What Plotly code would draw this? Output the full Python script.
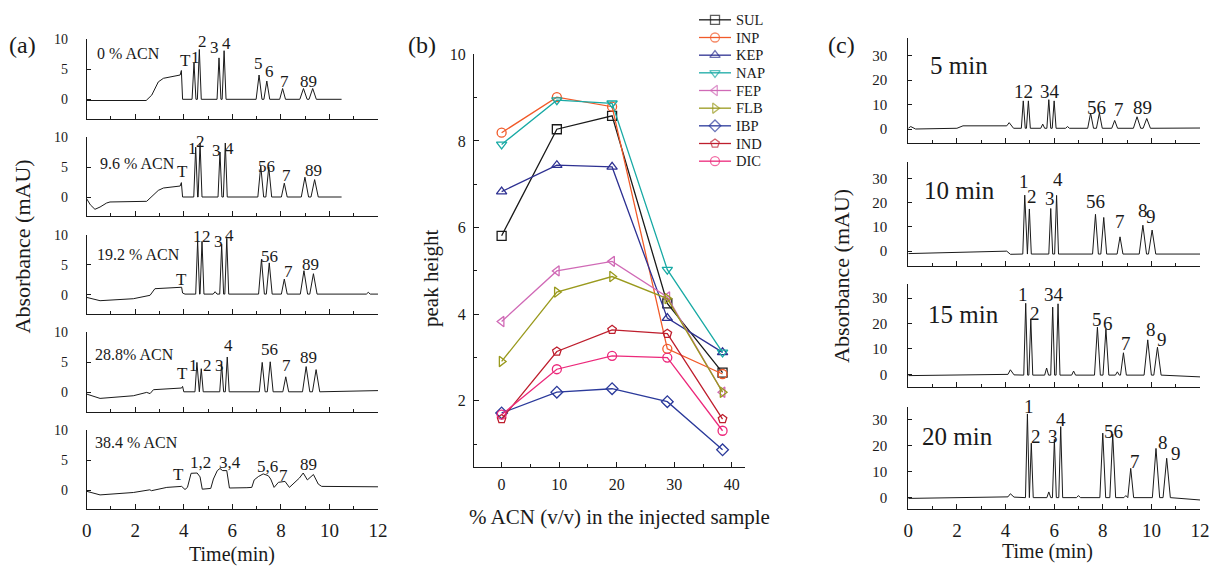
import plotly.graph_objects as go

W, H = 1211, 566
INK = "#1a1a1a"
SERIF = "Liberation Serif, Times New Roman, Times, serif"

# ---------------- panel (a): chromatograms, % ACN in the sample ----------------
a_titles = ["0 % ACN", "9.6 % ACN", "19.2 % ACN", "28.8% ACN", "38.4 % ACN"]

# baseline knots (time min, absorbance mAU) before the analyte window
a1_bt = [0, 2.45, 2.68, 2.82, 2.95, 3.16, 3.57, 3.85, 3.9, 3.95]
a1_by = [-0.2, -0.2, 0.7, 1.8, 2.9, 3.5, 3.8, 4.05, 4.8, 0.0]
a1_pt = [4.42, 4.64, 5.45, 5.66, 7.1, 7.42, 8.07, 8.93, 9.31]
a1_ph = [6.1, 8.3, 6.9, 8.1, 4.05, 3.05, 1.8, 1.8, 1.8]

a2_bt = [0, 0.15, 0.34, 0.55, 0.82, 0.96, 2.47, 2.75, 2.95, 3.16, 3.85, 3.9, 3.95]
a2_by = [-0.3, -1.3, -2.05, -1.67, -1.0, -0.83, -0.72, 0.28, 1.1, 1.5, 1.83, 2.4, 0.0]
a2_pt = [4.49, 4.67, 5.49, 5.71, 7.17, 7.5, 8.14, 8.99, 9.39]
a2_ph = [8.3, 9.0, 7.5, 9.0, 5.2, 5.0, 2.3, 3.3, 2.9]

a3_bt = [0, 0.14, 0.55, 1.92, 2.47, 2.61, 2.81, 3.91, 3.95, 4.05]
a3_by = [-0.45, -0.56, -1.0, -0.67, -0.28, -0.1, 1.0, 1.24, 0.28, 0.1]
a3_pt = [4.57, 4.75, 5.56, 5.77, 7.2, 7.52, 8.14, 8.95, 9.34]
a3_ph = [9.0, 8.9, 8.4, 9.4, 5.9, 5.3, 2.6, 4.0, 3.5]
a3_mt = [5.29, 11.6]
a3_mh = [0.5, 0.4]

a4_bt = [0, 0.55, 1.92, 2.4, 2.47, 2.61, 2.75, 3.91, 3.95, 4.0]
a4_by = [-0.28, -1.0, -0.56, -0.1, 0.0, -0.2, 0.45, 0.73, 1.0, 0.1]
a4_pt = [4.54, 4.72, 5.56, 5.79, 7.23, 7.56, 8.2, 9.04, 9.45]
a4_ph = [5.0, 3.95, 4.7, 5.9, 5.0, 5.1, 2.6, 4.3, 3.8]

# 38.4 % ACN: broad, distorted bands, read point by point
a5_t = [0, 0.55, 1.92, 2.33, 2.6, 2.67, 3.3, 3.91, 4.05, 4.15, 4.3, 4.55, 4.67,
        4.76, 5.11, 5.22, 5.38, 5.49, 5.6, 5.77, 5.88, 6.6, 6.8, 6.9, 7.07, 7.27,
        7.48, 7.58, 7.72, 7.9, 8.17, 8.35, 8.76, 8.92, 9.09, 9.34, 9.54, 9.68, 12]
a5_y = [-0.2, -0.8, -0.4, -0.1, 0.05, -0.1, 0.45, 0.62, 0.1, 0.45, 2.8, 2.85, 2.2,
        0.15, 0.28, 1.85, 3.25, 3.6, 3.25, 3.25, 0.35, 0.4, 0.45, 1.7, 2.25, 2.7,
        2.4, 1.85, 0.45, 1.3, 1.45, 0.45, 2.0, 2.85, 1.7, 2.6, 1.0, 0.62, 0.55]

# peak labels (text, time, absorbance)
a_labels = [
    [("T", 4.09, 6.4), ("1", 4.5, 7.0), ("2", 4.76, 9.6), ("3", 5.25, 8.55), ("4", 5.77, 9.3),
     ("5", 7.07, 6.0), ("6", 7.55, 4.6), ("7", 8.14, 2.9), ("89", 9.13, 2.9)],
    [("T", 3.93, 4.2), ("1", 4.37, 8.1), ("2", 4.67, 9.2), ("3", 5.33, 7.8), ("4", 5.9, 8.1),
     ("56", 7.42, 5.0), ("7", 8.21, 3.6), ("89", 9.34, 4.45)],
    [("T", 3.91, 2.5), ("1", 4.57, 9.7), ("2", 4.94, 9.7), ("3", 5.42, 8.8), ("4", 5.9, 9.9),
     ("56", 7.52, 6.4), ("7", 8.3, 3.9), ("89", 9.2, 5.0)],
    [("T", 3.95, 3.1), ("1", 4.39, 4.45), ("2", 4.97, 4.45), ("3", 5.46, 4.45), ("4", 5.83, 7.8),
     ("56", 7.52, 7.2), ("7", 8.21, 4.45), ("89", 9.13, 5.8)],
    [("T", 3.78, 2.55), ("1,2", 4.67, 4.6), ("3,4", 5.9, 4.6), ("5,6", 7.46, 3.9),
     ("7", 8.1, 2.4), ("89", 9.13, 4.2)],
]
a_title_pos = [(0.34, 7.7), (0.45, 5.6), (0.34, 6.7), (0.27, 6.4), (0.27, 7.9)]

# ---------------- panel (b): peak height vs % ACN ----------------
acn = [0, 9.6, 19.2, 28.8, 38.4]
compounds = ["SUL", "INP", "KEP", "NAP", "FEP", "FLB", "IBP", "IND", "DIC"]
SUL = [5.81, 8.27, 8.58, 4.25, 2.65]
INP = [8.19, 9.01, 8.79, 3.2, 2.62]
KEP = [6.83, 7.44, 7.40, 3.91, 3.12]
NAP = [7.92, 8.94, 8.87, 5.03, 3.12]
FEP = [3.83, 5.0, 5.22, 4.4, 2.2]
FLB = [2.91, 4.51, 4.87, 4.36, 2.2]
IBP = [1.72, 2.2, 2.28, 1.98, 0.87]
IND = [1.58, 3.14, 3.64, 3.55, 1.58]
DIC = [1.68, 2.73, 3.04, 3.0, 1.31]
heights = [SUL, INP, KEP, NAP, FEP, FLB, IBP, IND, DIC]

b_colors = ["#1a1a1a", "#f15a29", "#2e3192", "#19aaa5", "#d06ab6",
            "#9a9a1e", "#2b3a9b", "#be1e2d", "#ec297b"]
b_symbols = ["square-open", "circle-open", "triangle-up-open", "triangle-down-open",
             "triangle-left-open", "triangle-right-open", "diamond-open",
             "pentagon-open", "circle-open"]

# ---------------- panel (c): chromatograms, injection time ----------------
c_titles = ["5 min", "10 min", "15 min", "20 min"]

c1_bt = [0, 0.1, 0.3, 2.0, 2.25, 4.05, 4.15, 4.33]
c1_by = [0.3, 1.0, 0.0, 0.3, 1.3, 1.3, 2.6, 0.3]
c1_pt = [4.73, 4.94, 5.78, 6.0, 7.5, 7.86, 8.49, 9.41, 9.81]
c1_ph = [11.5, 11.5, 12.0, 11.5, 6.5, 6.5, 3.5, 5.0, 4.3]
c1_mt = [5.53, 6.55]
c1_mh = [2.0, 1.0]

c2_bt = [0, 4.05, 4.2]
c2_by = [-1.0, 0.0, -1.3]
c2_pt = [4.79, 4.98, 5.86, 6.1, 7.7, 8.04, 8.71, 9.65, 10.03]
c2_ph = [23.1, 17.4, 17.6, 23.0, 15.2, 13.9, 5.9, 10.7, 8.7]

c3_bt = [0, 4.1, 4.2, 4.35]
c3_by = [-0.5, 0.0, 1.8, -0.2]
c3_pt = [4.83, 5.04, 5.94, 6.16, 7.78, 8.13, 8.85, 9.85, 10.25]
c3_ph = [28.0, 21.9, 26.5, 27.8, 18.6, 17.8, 8.5, 13.6, 10.7]
c3_mt = [5.69, 6.8, 8.6]
c3_mh = [2.5, 1.3, 1.0]

c4_bt = [0, 4.1, 4.2, 4.35]
c4_by = [-0.3, 0.3, 1.5, 0.2]
c4_pt = [4.9, 5.06, 6.01, 6.27, 8.0, 8.41, 9.15, 10.19, 10.63]
c4_ph = [32.3, 21.0, 22.5, 27.4, 24.9, 24.5, 11.3, 19.0, 15.2]
c4_mt = [5.78, 7.0, 8.95]
c4_mh = [2.2, 0.8, 0.8]

c_labels = [
    [("12", 4.73, 15.2), ("34", 5.83, 15.2), ("56", 7.75, 8.9), ("7", 8.68, 7.8), ("89", 9.65, 8.9)],
    [("1", 4.77, 28.6), ("2", 5.08, 22.4), ("3", 5.84, 21.8), ("4", 6.16, 29.6), ("56", 7.72, 20.4),
     ("7", 8.71, 12.1), ("8", 9.65, 16.9), ("9", 9.98, 14.2)],
    [("1", 4.71, 31.3), ("2", 5.21, 24.1), ("34", 6.0, 31.3), ("5", 7.75, 21.5), ("6", 8.23, 20.1),
     ("7", 8.96, 12.0), ("8", 9.98, 17.5), ("9", 10.43, 13.6)],
    [("1", 4.98, 35.1), ("2", 5.26, 23.5), ("3", 5.97, 23.5), ("4", 6.27, 30.0), ("56", 8.44, 25.5),
     ("7", 9.33, 13.9), ("8", 10.49, 21.2), ("9", 11.0, 17.1)],
]
c_title_pos = [(0.82, 26.1), (0.55, 24.9), (0.73, 23.4), (0.48, 23.5)]

# half-widths of the peaks by elution order (style only)
PEAK_W = [0.08, 0.08, 0.08, 0.08, 0.12, 0.12, 0.12, 0.15, 0.15]
MINOR_W = 0.08


def chrom(bt, by, pt, ph, floor, t_end, y_end, mt=(), mh=()):
    peaks = [(t, h, PEAK_W[i]) for i, (t, h) in enumerate(zip(pt, ph))]
    peaks += [(t, h, MINOR_W) for t, h in zip(mt, mh)]
    peaks.sort()
    x, y = list(bt), list(by)
    for t, h, w in peaks:
        x += [t - w, t, t + w]
        y += [floor, h, floor]
    x.append(t_end)
    y.append(y_end)
    return x, y


a_traces = [
    chrom(a1_bt, a1_by, a1_pt, a1_ph, 0.0, 10.5, 0.0),
    chrom(a2_bt, a2_by, a2_pt, a2_ph, 0.0, 10.5, 0.0),
    chrom(a3_bt, a3_by, a3_pt, a3_ph, 0.1, 12, 0.1, a3_mt, a3_mh),
    chrom(a4_bt, a4_by, a4_pt, a4_ph, 0.1, 12, 0.3),
    (a5_t, a5_y),
]
c_traces = [
    chrom(c1_bt, c1_by, c1_pt, c1_ph, 0.3, 12, 0.4, c1_mt, c1_mh),
    chrom(c2_bt, c2_by, c2_pt, c2_ph, -1.2, 12, -1.2),
    chrom(c3_bt, c3_by, c3_pt, c3_ph, -0.3, 12, -1.0, c3_mt, c3_mh),
    chrom(c4_bt, c4_by, c4_pt, c4_ph, 0.0, 12, -0.9, c4_mt, c4_mh),
]


def px(x):
    return x / W


def py(y):
    return 1 - y / H


def txt_font(size):
    return dict(size=size, family=SERIF, color=INK)


fig = go.Figure()
layout = dict(width=W, height=H, autosize=False,
              margin=dict(l=0, r=0, t=0, b=0, pad=0, autoexpand=False),
              paper_bgcolor="white", plot_bgcolor="white",
              font=dict(family=SERIF, color=INK), showlegend=False)
annotations = []


def chrom_axes(n, dom_x, top, bot, yr, ytv, ysize, ystand, last):
    layout["xaxis%d" % n] = dict(
        domain=dom_x, anchor="y%d" % n, range=[0, 12], showline=True, linecolor=INK,
        linewidth=1, showgrid=False, zeroline=False, ticks="inside", ticklen=5,
        tickcolor=INK, tick0=0, dtick=2, showticklabels=last, ticklabelstandoff=4,
        tickfont=txt_font(19),
        minor=dict(dtick=1, tick0=0, ticks="inside", ticklen=3, tickcolor=INK))
    layout["yaxis%d" % n] = dict(
        domain=[py(bot), py(top)], anchor="x%d" % n, range=yr, showline=True,
        linecolor=INK, linewidth=1, showgrid=False, zeroline=False, ticks="inside",
        ticklen=4, tickcolor=INK, tickvals=ytv, ticklabelstandoff=ystand,
        tickfont=txt_font(ysize))


def data_note(text, x, y, n, size, anchor="center"):
    annotations.append(dict(text=text, x=x, y=y, xref="x%d" % n, yref="y%d" % n,
                            xanchor=anchor, yanchor="middle", showarrow=False,
                            font=txt_font(size)))


# panel (a)
a_dom = [px(86.7), px(378)]
a_tops = [39.3, 137.0, 234.7, 332.4, 430.1]
for i, (tx, ty) in enumerate(a_traces):
    n = i + 1
    chrom_axes(n, a_dom, a_tops[i], a_tops[i] + 79.2, [-3.2, 10], [0, 5, 10], 14, 15, i == 4)
    fig.add_trace(go.Scatter(x=tx, y=ty, mode="lines", line=dict(color=INK, width=1),
                             xaxis="x%d" % n, yaxis="y%d" % n, hoverinfo="skip"))
    data_note(a_titles[i], a_title_pos[i][0], a_title_pos[i][1], n, 16, "left")
    for t, lx, ly in a_labels[i]:
        data_note(t, lx, ly, n, 17)

# panel (b)
layout["xaxis6"] = dict(
    domain=[px(474), px(745)], anchor="y6", range=[-4.8, 42.3], showline=True,
    linecolor=INK, linewidth=1, showgrid=False, zeroline=False, ticks="inside", ticklen=5,
    tickcolor=INK, tick0=0, dtick=10, ticklabelstandoff=3, tickfont=txt_font(16),
    minor=dict(dtick=5, tick0=0, ticks="inside", ticklen=3, tickcolor=INK))
layout["yaxis6"] = dict(
    domain=[py(466.7), py(54.3)], anchor="x6", range=[0.48, 10], showline=True,
    linecolor=INK, linewidth=1, showgrid=False, zeroline=False, ticks="inside", ticklen=5,
    tickcolor=INK, tick0=0, dtick=2, ticklabelstandoff=4, tickfont=txt_font(16),
    minor=dict(dtick=1, tick0=0, ticks="inside", ticklen=3, tickcolor=INK))
for name, vals, col, sym in zip(compounds, heights, b_colors, b_symbols):
    fig.add_trace(go.Scatter(
        x=acn, y=vals, name=name, mode="lines+markers", xaxis="x6", yaxis="y6",
        line=dict(color=col, width=1.3),
        marker=dict(symbol=sym, size=9, color=col, line=dict(color=col, width=1.3))))

# legend of panel (b), drawn on its own hidden axes so the row pitch matches
layout["xaxis11"] = dict(domain=[px(699), px(731)], anchor="y11", range=[0, 2],
                         visible=False, fixedrange=True)
layout["yaxis11"] = dict(domain=[py(170), py(11)], anchor="x11", range=[8.5, -0.5],
                         visible=False, fixedrange=True)
for row, (name, col, sym) in enumerate(zip(compounds, b_colors, b_symbols)):
    fig.add_trace(go.Scatter(
        x=[0, 1, 2], y=[row] * 3, mode="lines+markers", xaxis="x11", yaxis="y11",
        line=dict(color=col, width=1.3), hoverinfo="skip", cliponaxis=False,
        marker=dict(symbol=sym, size=[0, 9, 0], color=col, line=dict(color=col, width=1.3))))
    annotations.append(dict(text=name, x=px(734), y=row, xref="paper", yref="y11",
                            xanchor="left", yanchor="middle", showarrow=False,
                            font=txt_font(14.5)))

# panel (c)
c_dom = [px(908.3), px(1200)]
c_boxes = [(38.3, 142.7, [-5.6, 37.1]), (161.7, 265.7, [-6.0, 36.9]),
           (284.0, 387.3, [-5.1, 35.6]), (406.7, 509.3, [-4.5, 35.1])]
for i, (tx, ty) in enumerate(c_traces):
    n = i + 7
    top, bot, yr = c_boxes[i]
    chrom_axes(n, c_dom, top, bot, yr, [0, 10, 20, 30], 15, 17, i == 3)
    fig.add_trace(go.Scatter(x=tx, y=ty, mode="lines", line=dict(color=INK, width=1),
                             xaxis="x%d" % n, yaxis="y%d" % n, hoverinfo="skip"))
    data_note(c_titles[i], c_title_pos[i][0], c_title_pos[i][1], n, 25, "left")
    for t, lx, ly in c_labels[i]:
        data_note(t, lx, ly, n, 19)

# panel letters and axis titles
for t, x, y, size, ang in [
        ("(a)", 22, 45, 24, 0), ("(b)", 422, 45, 24, 0), ("(c)", 841, 45, 24, 0),
        ("Absorbance (mAU)", 22, 246.5, 22, -90), ("Absorbance (mAU)", 841, 276, 22, -90),
        ("peak height", 431, 278, 21, -90),
        ("% ACN (v/v) in the injected sample", 619, 516.7, 21, 0),
        ("Time(min)", 232, 554.5, 20, 0), ("Time (min)", 1047, 551, 20, 0)]:
    annotations.append(dict(text=t, x=px(x), y=py(y), xref="paper", yref="paper",
                            xanchor="center", yanchor="middle", showarrow=False,
                            textangle=ang, font=txt_font(size)))

layout["annotations"] = annotations
fig.update_layout(**layout)
fig.write_html("out.html", config={"displayModeBar": False},
               post_script="document.body.style.margin='0';")
